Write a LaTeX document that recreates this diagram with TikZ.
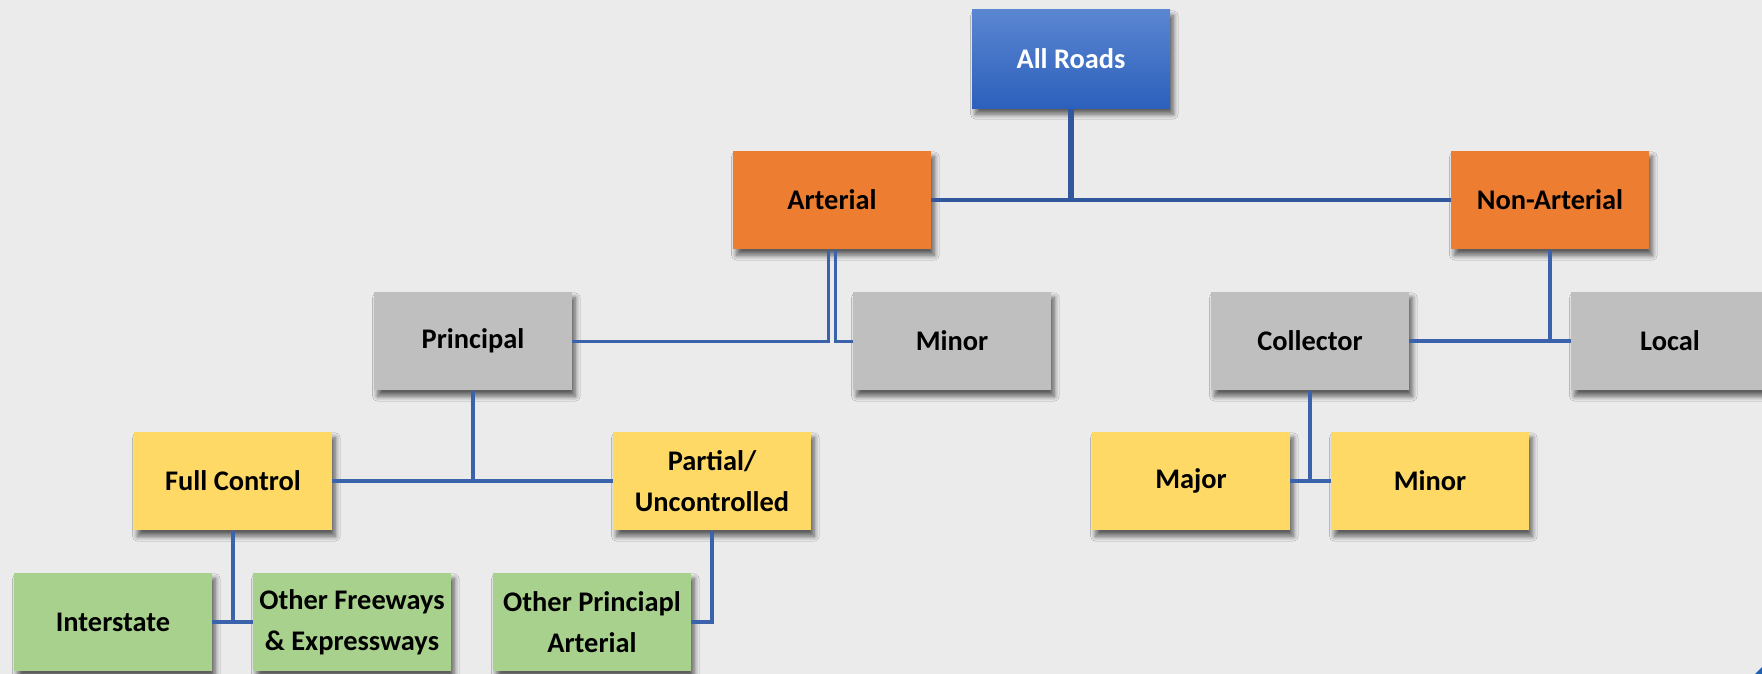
\documentclass[tikz,border=0pt]{standalone}
\usepackage{fontspec}
\setmainfont{Carlito}
\usetikzlibrary{shadows.blur}

\definecolor{bgcol}{HTML}{EBEBEB}
\definecolor{topblue}{HTML}{5B86D1}
\definecolor{botblue}{HTML}{2C60BC}
\definecolor{orangebox}{HTML}{ED7D31}
\definecolor{greybox}{HTML}{BFBFBF}
\definecolor{yellowbox}{HTML}{FFD966}
\definecolor{greenbox}{HTML}{A9D18E}
\definecolor{linkblue}{HTML}{3B63AC}
\definecolor{trunkblue}{HTML}{31589E}
\definecolor{cornerblue}{HTML}{1F5FB0}

\begin{document}
\begin{tikzpicture}[x=0.5pt,y=-0.5pt,
  rdbox/.style={rectangle, minimum width=99pt, minimum height=49.3pt,
    inner sep=0pt, align=center,
    font=\bfseries\fontsize{14.2}{20.3}\selectfont,
    blur shadow={shadow xshift=1.7pt, shadow yshift=-3pt,
      shadow blur radius=2.4pt, shadow blur steps=8, shadow opacity=60}},
  rootbox/.style={rdbox, top color=topblue, bottom color=botblue, text=white},
  orbox/.style={rdbox, fill=orangebox},
  gybox/.style={rdbox, fill=greybox},
  ylbox/.style={rdbox, fill=yellowbox},
  gnbox/.style={rdbox, fill=greenbox},
  link/.style={draw=linkblue, line width=2.1pt},
  trunk/.style={draw=trunkblue, line width=2.3pt}]

\useasboundingbox (0,0) rectangle (1762,674);
\clip (0,0) rectangle (1762,674);
\fill[bgcol] (0,0) rectangle (1762,674);

% hierarchy boxes
\node[rootbox] (all)   at (1071,59)  {All Roads};
\node[orbox]   (art)   at (832,200)  {Arterial};
\node[orbox]   (nonart) at (1550,200) {Non-Arterial};
\node[gybox]   (prin)  at (473,341)  {Principal};
\node[gybox]   (minA)  at (952,341)  {Minor};
\node[gybox]   (coll)  at (1310,341) {Collector};
\node[gybox]   (local) at (1670,341) {Local};
\node[ylbox]   (full)  at (233,481)  {Full Control};
\node[ylbox]   (part)  at (712,481)  {Partial/\\Uncontrolled};
\node[ylbox]   (major) at (1191,481) {Major};
\node[ylbox]   (minC)  at (1430,481) {Minor};
\node[gnbox]   (inter) at (113,622)  {Interstate};
\node[gnbox]   (ofree) at (352,622)  {Other Freeways\\\& Expressways};
\node[gnbox]   (oprin) at (592,622)  {Other Princiapl\\Arterial};

% top level connectors
\draw[trunk, line width=3.2pt] (all.south) -- (all.south |- art.east);
\draw[trunk] (art.east) -- (nonart.west);

% arterial split (two parallel leads)
\draw[link, line width=1.5pt] ([xshift=-1.75pt]art.south) |- (prin.east);
\draw[link, line width=1.5pt] ([xshift=1.75pt]art.south) |- (minA.west);

% non-arterial split
\draw[link] (nonart.south) |- (coll.east);
\draw[link] (nonart.south) |- (local.west);

% principal split
\draw[link] (prin.south) |- (full.east);
\draw[link] (prin.south) |- (part.west);

% collector split
\draw[link] (coll.south) |- (major.east);
\draw[link] (coll.south) |- (minC.west);

% access control split
\draw[link] (full.south) |- (inter.east);
\draw[link] (full.south) |- (ofree.west);
\draw[link] (part.south) |- (oprin.east);

% corner mark
\fill[cornerblue] (1762,667) -- (1762,674) -- (1755,674) -- cycle;
\end{tikzpicture}
\end{document}
